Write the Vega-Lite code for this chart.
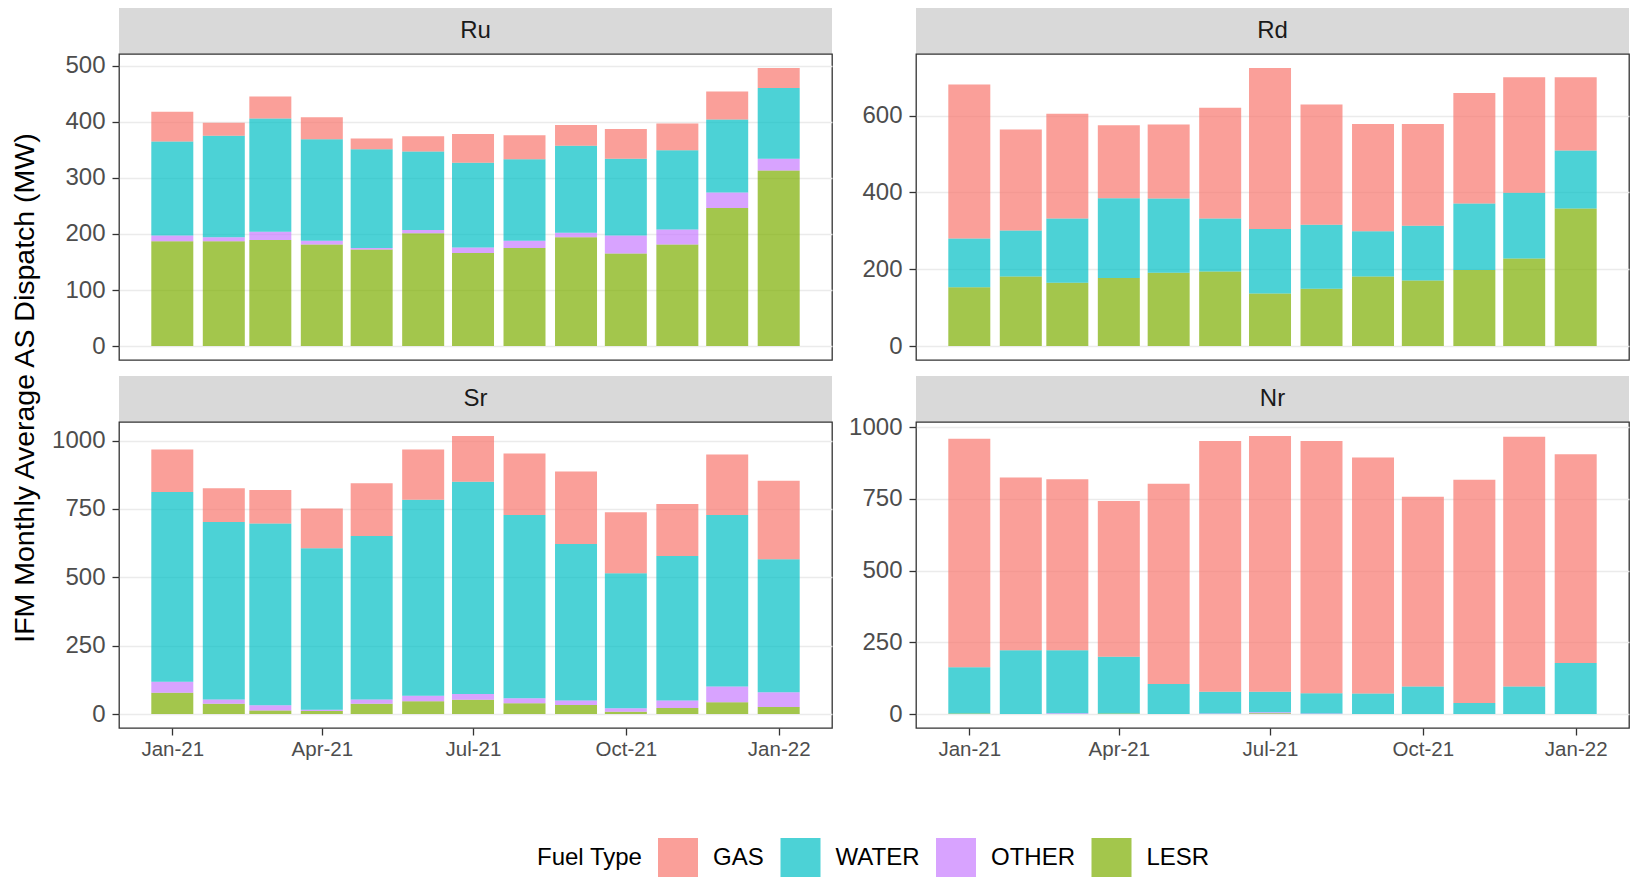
{
  "$schema": "https://vega.github.io/schema/vega-lite/v6.json",
  "padding": {"left": 0, "top": 8, "right": 2, "bottom": 0},
  "data": {"values": [
    {"panel":"Ru","month":"2021-01-01","fuel":"LESR","value":187},{"panel":"Ru","month":"2021-01-01","fuel":"OTHER","value":10},{"panel":"Ru","month":"2021-01-01","fuel":"WATER","value":168},{"panel":"Ru","month":"2021-01-01","fuel":"GAS","value":53},
    {"panel":"Ru","month":"2021-02-01","fuel":"LESR","value":187},{"panel":"Ru","month":"2021-02-01","fuel":"OTHER","value":7},{"panel":"Ru","month":"2021-02-01","fuel":"WATER","value":181},{"panel":"Ru","month":"2021-02-01","fuel":"GAS","value":23},
    {"panel":"Ru","month":"2021-03-01","fuel":"LESR","value":189},{"panel":"Ru","month":"2021-03-01","fuel":"OTHER","value":15},{"panel":"Ru","month":"2021-03-01","fuel":"WATER","value":202},{"panel":"Ru","month":"2021-03-01","fuel":"GAS","value":39},
    {"panel":"Ru","month":"2021-04-01","fuel":"LESR","value":181},{"panel":"Ru","month":"2021-04-01","fuel":"OTHER","value":7},{"panel":"Ru","month":"2021-04-01","fuel":"WATER","value":181},{"panel":"Ru","month":"2021-04-01","fuel":"GAS","value":39},
    {"panel":"Ru","month":"2021-05-01","fuel":"LESR","value":172},{"panel":"Ru","month":"2021-05-01","fuel":"OTHER","value":3},{"panel":"Ru","month":"2021-05-01","fuel":"WATER","value":176},{"panel":"Ru","month":"2021-05-01","fuel":"GAS","value":19},
    {"panel":"Ru","month":"2021-06-01","fuel":"LESR","value":201},{"panel":"Ru","month":"2021-06-01","fuel":"OTHER","value":6},{"panel":"Ru","month":"2021-06-01","fuel":"WATER","value":140},{"panel":"Ru","month":"2021-06-01","fuel":"GAS","value":27},
    {"panel":"Ru","month":"2021-07-01","fuel":"LESR","value":166},{"panel":"Ru","month":"2021-07-01","fuel":"OTHER","value":10},{"panel":"Ru","month":"2021-07-01","fuel":"WATER","value":151},{"panel":"Ru","month":"2021-07-01","fuel":"GAS","value":51},
    {"panel":"Ru","month":"2021-08-01","fuel":"LESR","value":175},{"panel":"Ru","month":"2021-08-01","fuel":"OTHER","value":13},{"panel":"Ru","month":"2021-08-01","fuel":"WATER","value":145},{"panel":"Ru","month":"2021-08-01","fuel":"GAS","value":43},
    {"panel":"Ru","month":"2021-09-01","fuel":"LESR","value":194},{"panel":"Ru","month":"2021-09-01","fuel":"OTHER","value":8},{"panel":"Ru","month":"2021-09-01","fuel":"WATER","value":155},{"panel":"Ru","month":"2021-09-01","fuel":"GAS","value":37},
    {"panel":"Ru","month":"2021-10-01","fuel":"LESR","value":165},{"panel":"Ru","month":"2021-10-01","fuel":"OTHER","value":32},{"panel":"Ru","month":"2021-10-01","fuel":"WATER","value":137},{"panel":"Ru","month":"2021-10-01","fuel":"GAS","value":53},
    {"panel":"Ru","month":"2021-11-01","fuel":"LESR","value":181},{"panel":"Ru","month":"2021-11-01","fuel":"OTHER","value":27},{"panel":"Ru","month":"2021-11-01","fuel":"WATER","value":141},{"panel":"Ru","month":"2021-11-01","fuel":"GAS","value":48},
    {"panel":"Ru","month":"2021-12-01","fuel":"LESR","value":246},{"panel":"Ru","month":"2021-12-01","fuel":"OTHER","value":28},{"panel":"Ru","month":"2021-12-01","fuel":"WATER","value":130},{"panel":"Ru","month":"2021-12-01","fuel":"GAS","value":50},
    {"panel":"Ru","month":"2022-01-01","fuel":"LESR","value":313},{"panel":"Ru","month":"2022-01-01","fuel":"OTHER","value":21},{"panel":"Ru","month":"2022-01-01","fuel":"WATER","value":126},{"panel":"Ru","month":"2022-01-01","fuel":"GAS","value":36},

    {"panel":"Rd","month":"2021-01-01","fuel":"LESR","value":153},{"panel":"Rd","month":"2021-01-01","fuel":"WATER","value":127},{"panel":"Rd","month":"2021-01-01","fuel":"GAS","value":401},
    {"panel":"Rd","month":"2021-02-01","fuel":"LESR","value":181},{"panel":"Rd","month":"2021-02-01","fuel":"WATER","value":120},{"panel":"Rd","month":"2021-02-01","fuel":"GAS","value":263},
    {"panel":"Rd","month":"2021-03-01","fuel":"LESR","value":165},{"panel":"Rd","month":"2021-03-01","fuel":"WATER","value":167},{"panel":"Rd","month":"2021-03-01","fuel":"GAS","value":273},
    {"panel":"Rd","month":"2021-04-01","fuel":"LESR","value":177},{"panel":"Rd","month":"2021-04-01","fuel":"WATER","value":208},{"panel":"Rd","month":"2021-04-01","fuel":"GAS","value":190},
    {"panel":"Rd","month":"2021-05-01","fuel":"LESR","value":191},{"panel":"Rd","month":"2021-05-01","fuel":"WATER","value":193},{"panel":"Rd","month":"2021-05-01","fuel":"GAS","value":193},
    {"panel":"Rd","month":"2021-06-01","fuel":"LESR","value":194},{"panel":"Rd","month":"2021-06-01","fuel":"WATER","value":138},{"panel":"Rd","month":"2021-06-01","fuel":"GAS","value":288},
    {"panel":"Rd","month":"2021-07-01","fuel":"LESR","value":137},{"panel":"Rd","month":"2021-07-01","fuel":"WATER","value":168},{"panel":"Rd","month":"2021-07-01","fuel":"GAS","value":419},
    {"panel":"Rd","month":"2021-08-01","fuel":"LESR","value":149},{"panel":"Rd","month":"2021-08-01","fuel":"WATER","value":167},{"panel":"Rd","month":"2021-08-01","fuel":"GAS","value":313},
    {"panel":"Rd","month":"2021-09-01","fuel":"LESR","value":181},{"panel":"Rd","month":"2021-09-01","fuel":"WATER","value":118},{"panel":"Rd","month":"2021-09-01","fuel":"GAS","value":279},
    {"panel":"Rd","month":"2021-10-01","fuel":"LESR","value":171},{"panel":"Rd","month":"2021-10-01","fuel":"WATER","value":142},{"panel":"Rd","month":"2021-10-01","fuel":"GAS","value":265},
    {"panel":"Rd","month":"2021-11-01","fuel":"LESR","value":198},{"panel":"Rd","month":"2021-11-01","fuel":"WATER","value":173},{"panel":"Rd","month":"2021-11-01","fuel":"GAS","value":288},
    {"panel":"Rd","month":"2021-12-01","fuel":"LESR","value":228},{"panel":"Rd","month":"2021-12-01","fuel":"WATER","value":171},{"panel":"Rd","month":"2021-12-01","fuel":"GAS","value":301},
    {"panel":"Rd","month":"2022-01-01","fuel":"LESR","value":358},{"panel":"Rd","month":"2022-01-01","fuel":"WATER","value":151},{"panel":"Rd","month":"2022-01-01","fuel":"GAS","value":191},

    {"panel":"Sr","month":"2021-01-01","fuel":"LESR","value":78},{"panel":"Sr","month":"2021-01-01","fuel":"OTHER","value":40},{"panel":"Sr","month":"2021-01-01","fuel":"WATER","value":694},{"panel":"Sr","month":"2021-01-01","fuel":"GAS","value":155},
    {"panel":"Sr","month":"2021-02-01","fuel":"LESR","value":38},{"panel":"Sr","month":"2021-02-01","fuel":"OTHER","value":15},{"panel":"Sr","month":"2021-02-01","fuel":"WATER","value":649},{"panel":"Sr","month":"2021-02-01","fuel":"GAS","value":124},
    {"panel":"Sr","month":"2021-03-01","fuel":"LESR","value":13},{"panel":"Sr","month":"2021-03-01","fuel":"OTHER","value":19},{"panel":"Sr","month":"2021-03-01","fuel":"WATER","value":665},{"panel":"Sr","month":"2021-03-01","fuel":"GAS","value":122},
    {"panel":"Sr","month":"2021-04-01","fuel":"LESR","value":11},{"panel":"Sr","month":"2021-04-01","fuel":"OTHER","value":5},{"panel":"Sr","month":"2021-04-01","fuel":"WATER","value":590},{"panel":"Sr","month":"2021-04-01","fuel":"GAS","value":146},
    {"panel":"Sr","month":"2021-05-01","fuel":"LESR","value":38},{"panel":"Sr","month":"2021-05-01","fuel":"OTHER","value":15},{"panel":"Sr","month":"2021-05-01","fuel":"WATER","value":598},{"panel":"Sr","month":"2021-05-01","fuel":"GAS","value":193},
    {"panel":"Sr","month":"2021-06-01","fuel":"LESR","value":47},{"panel":"Sr","month":"2021-06-01","fuel":"OTHER","value":20},{"panel":"Sr","month":"2021-06-01","fuel":"WATER","value":717},{"panel":"Sr","month":"2021-06-01","fuel":"GAS","value":183},
    {"panel":"Sr","month":"2021-07-01","fuel":"LESR","value":52},{"panel":"Sr","month":"2021-07-01","fuel":"OTHER","value":21},{"panel":"Sr","month":"2021-07-01","fuel":"WATER","value":776},{"panel":"Sr","month":"2021-07-01","fuel":"GAS","value":168},
    {"panel":"Sr","month":"2021-08-01","fuel":"LESR","value":40},{"panel":"Sr","month":"2021-08-01","fuel":"OTHER","value":18},{"panel":"Sr","month":"2021-08-01","fuel":"WATER","value":670},{"panel":"Sr","month":"2021-08-01","fuel":"GAS","value":225},
    {"panel":"Sr","month":"2021-09-01","fuel":"LESR","value":33},{"panel":"Sr","month":"2021-09-01","fuel":"OTHER","value":17},{"panel":"Sr","month":"2021-09-01","fuel":"WATER","value":572},{"panel":"Sr","month":"2021-09-01","fuel":"GAS","value":265},
    {"panel":"Sr","month":"2021-10-01","fuel":"LESR","value":9},{"panel":"Sr","month":"2021-10-01","fuel":"OTHER","value":12},{"panel":"Sr","month":"2021-10-01","fuel":"WATER","value":494},{"panel":"Sr","month":"2021-10-01","fuel":"GAS","value":223},
    {"panel":"Sr","month":"2021-11-01","fuel":"LESR","value":22},{"panel":"Sr","month":"2021-11-01","fuel":"OTHER","value":28},{"panel":"Sr","month":"2021-11-01","fuel":"WATER","value":528},{"panel":"Sr","month":"2021-11-01","fuel":"GAS","value":190},
    {"panel":"Sr","month":"2021-12-01","fuel":"LESR","value":43},{"panel":"Sr","month":"2021-12-01","fuel":"OTHER","value":58},{"panel":"Sr","month":"2021-12-01","fuel":"WATER","value":627},{"panel":"Sr","month":"2021-12-01","fuel":"GAS","value":221},
    {"panel":"Sr","month":"2022-01-01","fuel":"LESR","value":26},{"panel":"Sr","month":"2022-01-01","fuel":"OTHER","value":54},{"panel":"Sr","month":"2022-01-01","fuel":"WATER","value":486},{"panel":"Sr","month":"2022-01-01","fuel":"GAS","value":287},

    {"panel":"Nr","month":"2021-01-01","fuel":"LESR","value":2},{"panel":"Nr","month":"2021-01-01","fuel":"WATER","value":161},{"panel":"Nr","month":"2021-01-01","fuel":"GAS","value":796},
    {"panel":"Nr","month":"2021-02-01","fuel":"WATER","value":222},{"panel":"Nr","month":"2021-02-01","fuel":"GAS","value":602},
    {"panel":"Nr","month":"2021-03-01","fuel":"OTHER","value":3},{"panel":"Nr","month":"2021-03-01","fuel":"WATER","value":219},{"panel":"Nr","month":"2021-03-01","fuel":"GAS","value":596},
    {"panel":"Nr","month":"2021-04-01","fuel":"LESR","value":2},{"panel":"Nr","month":"2021-04-01","fuel":"WATER","value":198},{"panel":"Nr","month":"2021-04-01","fuel":"GAS","value":542},
    {"panel":"Nr","month":"2021-05-01","fuel":"WATER","value":105},{"panel":"Nr","month":"2021-05-01","fuel":"GAS","value":697},
    {"panel":"Nr","month":"2021-06-01","fuel":"OTHER","value":2},{"panel":"Nr","month":"2021-06-01","fuel":"WATER","value":76},{"panel":"Nr","month":"2021-06-01","fuel":"GAS","value":873},
    {"panel":"Nr","month":"2021-07-01","fuel":"LESR","value":3},{"panel":"Nr","month":"2021-07-01","fuel":"OTHER","value":3},{"panel":"Nr","month":"2021-07-01","fuel":"WATER","value":72},{"panel":"Nr","month":"2021-07-01","fuel":"GAS","value":891},
    {"panel":"Nr","month":"2021-08-01","fuel":"OTHER","value":2},{"panel":"Nr","month":"2021-08-01","fuel":"WATER","value":71},{"panel":"Nr","month":"2021-08-01","fuel":"GAS","value":878},
    {"panel":"Nr","month":"2021-09-01","fuel":"WATER","value":72},{"panel":"Nr","month":"2021-09-01","fuel":"GAS","value":822},
    {"panel":"Nr","month":"2021-10-01","fuel":"WATER","value":96},{"panel":"Nr","month":"2021-10-01","fuel":"GAS","value":661},
    {"panel":"Nr","month":"2021-11-01","fuel":"WATER","value":39},{"panel":"Nr","month":"2021-11-01","fuel":"GAS","value":777},
    {"panel":"Nr","month":"2021-12-01","fuel":"WATER","value":96},{"panel":"Nr","month":"2021-12-01","fuel":"GAS","value":870},
    {"panel":"Nr","month":"2022-01-01","fuel":"WATER","value":178},{"panel":"Nr","month":"2022-01-01","fuel":"GAS","value":727}
  ]},
  "spacing": 0,
  "hconcat": [
    {
      "data": {"values": [{"label": "IFM Monthly Average AS Dispatch (MW)"}]},
      "width": 50, "height": 760,
      "view": {"stroke": null},
      "mark": {"type": "text", "angle": 270, "fontSize": 28.5, "font": "Liberation Sans", "color": "#000000"},
      "encoding": {"text": {"field": "label"}}
    },
    {
      "columns": 2,
      "bounds": "flush",
      "spacing": {"row": 0, "column": 84},
      "concat": [
        {"data": {"values": [{"name": "Ru"}]}, "width": 713, "height": 46, "view": {"fill": "#D9D9D9"},
         "mark": {"type": "text", "fontSize": 24, "font": "Liberation Sans", "color": "#1A1A1A"}, "encoding": {"text": {"field": "name"}}},
        {"data": {"values": [{"name": "Rd"}]}, "width": 713, "height": 46, "view": {"fill": "#D9D9D9"},
         "mark": {"type": "text", "fontSize": 24, "font": "Liberation Sans", "color": "#1A1A1A"}, "encoding": {"text": {"field": "name"}}},
        {
          "width": 713, "height": 306,
          "transform": [{"filter": "datum.panel === 'Ru'"}, {"calculate": "indexof(['LESR','OTHER','WATER','GAS'], datum.fuel)", "as": "stack_rank"}],
          "mark": {"type": "bar", "size": 42, "opacity": 0.7},
          "encoding": {
            "x": {"field": "month", "type": "temporal", "scale": {"type": "utc", "padding": 0, "domain": [{"year": 2020, "month": 11, "date": 29, "hours": 22, "utc": true}, {"year": 2022, "month": 2, "date": 2, "hours": 2, "utc": true}]}, "axis": null},
            "y": {"field": "value", "type": "quantitative", "stack": "zero", "scale": {"domain": [-24.8, 520.8], "nice": false, "zero": false}, "axis": {"values": [0, 100, 200, 300, 400, 500], "format": "d", "title": null}},
            "color": {"field": "fuel", "type": "nominal", "scale": {"domain": ["GAS", "WATER", "OTHER", "LESR"], "range": ["#F8766D", "#00BFC4", "#C77CFF", "#7CAE00"]}, "legend": {"title": "Fuel Type"}},
            "order": {"field": "stack_rank", "type": "quantitative"}
          }
        },
        {
          "width": 713, "height": 306,
          "transform": [{"filter": "datum.panel === 'Rd'"}, {"calculate": "indexof(['LESR','OTHER','WATER','GAS'], datum.fuel)", "as": "stack_rank"}],
          "mark": {"type": "bar", "size": 42, "opacity": 0.7},
          "encoding": {
            "x": {"field": "month", "type": "temporal", "scale": {"type": "utc", "padding": 0, "domain": [{"year": 2020, "month": 11, "date": 29, "hours": 22, "utc": true}, {"year": 2022, "month": 2, "date": 2, "hours": 2, "utc": true}]}, "axis": null},
            "y": {"field": "value", "type": "quantitative", "stack": "zero", "scale": {"domain": [-36.2, 760.2], "nice": false, "zero": false}, "axis": {"values": [0, 200, 400, 600], "format": "d", "title": null}},
            "color": {"field": "fuel", "type": "nominal", "scale": {"domain": ["GAS", "WATER", "OTHER", "LESR"], "range": ["#F8766D", "#00BFC4", "#C77CFF", "#7CAE00"]}, "legend": {"title": "Fuel Type"}},
            "order": {"field": "stack_rank", "type": "quantitative"}
          }
        },
        {"data": {"values": []}, "width": 713, "height": 16, "view": {"stroke": null}, "mark": "point", "encoding": {}},
        {"data": {"values": []}, "width": 713, "height": 16, "view": {"stroke": null}, "mark": "point", "encoding": {}},
        {"data": {"values": [{"name": "Sr"}]}, "width": 713, "height": 46, "view": {"fill": "#D9D9D9"},
         "mark": {"type": "text", "fontSize": 24, "font": "Liberation Sans", "color": "#1A1A1A"}, "encoding": {"text": {"field": "name"}}},
        {"data": {"values": [{"name": "Nr"}]}, "width": 713, "height": 46, "view": {"fill": "#D9D9D9"},
         "mark": {"type": "text", "fontSize": 24, "font": "Liberation Sans", "color": "#1A1A1A"}, "encoding": {"text": {"field": "name"}}},
        {
          "width": 713, "height": 306,
          "transform": [{"filter": "datum.panel === 'Sr'"}, {"calculate": "indexof(['LESR','OTHER','WATER','GAS'], datum.fuel)", "as": "stack_rank"}],
          "mark": {"type": "bar", "size": 42, "opacity": 0.7},
          "encoding": {
            "x": {"field": "month", "type": "temporal", "scale": {"type": "utc", "padding": 0, "domain": [{"year": 2020, "month": 11, "date": 29, "hours": 22, "utc": true}, {"year": 2022, "month": 2, "date": 2, "hours": 2, "utc": true}]},
                  "axis": {"values": [{"year": 2021, "month": 1, "date": 1, "utc": true}, {"year": 2021, "month": 4, "date": 1, "utc": true}, {"year": 2021, "month": 7, "date": 1, "utc": true}, {"year": 2021, "month": 10, "date": 1, "utc": true}, {"year": 2022, "month": 1, "date": 1, "utc": true}], "labelExpr": "utcFormat(datum.value, '%b-%y')", "title": null, "grid": false, "labelPadding": 4, "labelFontSize": 20.5}},
            "y": {"field": "value", "type": "quantitative", "stack": "zero", "scale": {"domain": [-50.85, 1067.85], "nice": false, "zero": false}, "axis": {"values": [0, 250, 500, 750, 1000], "format": "d", "title": null}},
            "color": {"field": "fuel", "type": "nominal", "scale": {"domain": ["GAS", "WATER", "OTHER", "LESR"], "range": ["#F8766D", "#00BFC4", "#C77CFF", "#7CAE00"]}, "legend": {"title": "Fuel Type"}},
            "order": {"field": "stack_rank", "type": "quantitative"}
          }
        },
        {
          "width": 713, "height": 306,
          "transform": [{"filter": "datum.panel === 'Nr'"}, {"calculate": "indexof(['LESR','OTHER','WATER','GAS'], datum.fuel)", "as": "stack_rank"}],
          "mark": {"type": "bar", "size": 42, "opacity": 0.7},
          "encoding": {
            "x": {"field": "month", "type": "temporal", "scale": {"type": "utc", "padding": 0, "domain": [{"year": 2020, "month": 11, "date": 29, "hours": 22, "utc": true}, {"year": 2022, "month": 2, "date": 2, "hours": 2, "utc": true}]},
                  "axis": {"values": [{"year": 2021, "month": 1, "date": 1, "utc": true}, {"year": 2021, "month": 4, "date": 1, "utc": true}, {"year": 2021, "month": 7, "date": 1, "utc": true}, {"year": 2021, "month": 10, "date": 1, "utc": true}, {"year": 2022, "month": 1, "date": 1, "utc": true}], "labelExpr": "utcFormat(datum.value, '%b-%y')", "title": null, "grid": false, "labelPadding": 4, "labelFontSize": 20.5}},
            "y": {"field": "value", "type": "quantitative", "stack": "zero", "scale": {"domain": [-48.45, 1017.45], "nice": false, "zero": false}, "axis": {"values": [0, 250, 500, 750, 1000], "format": "d", "title": null}},
            "color": {"field": "fuel", "type": "nominal", "scale": {"domain": ["GAS", "WATER", "OTHER", "LESR"], "range": ["#F8766D", "#00BFC4", "#C77CFF", "#7CAE00"]}, "legend": {"title": "Fuel Type"}},
            "order": {"field": "stack_rank", "type": "quantitative"}
          }
        }
      ]
    }
  ],
  "config": {
    "font": "Liberation Sans",
    "view": {"stroke": "#333333", "strokeWidth": 1.3},
    "axis": {"domain": false, "tickColor": "#333333", "tickSize": 7, "tickWidth": 1.3, "labelColor": "#4D4D4D", "labelFontSize": 24, "labelFont": "Liberation Sans", "labelPadding": 7, "gridColor": "#EBEBEB", "gridWidth": 1.4},
    "axisX": {"grid": false},
    "axisY": {"grid": true},
    "legend": {
      "orient": "none", "legendX": 537, "legendY": 830, "direction": "horizontal",
      "titleOrient": "left", "titleAnchor": "middle", "titleBaseline": "middle",
      "titleFontSize": 24, "titleFontWeight": "normal", "titleColor": "#000000", "titleFont": "Liberation Sans", "titlePadding": 15,
      "labelFontSize": 24, "labelFont": "Liberation Sans", "labelColor": "#000000", "labelOffset": 15,
      "symbolType": "square", "symbolSize": 1600, "symbolStrokeWidth": 0, "symbolOpacity": 0.7,
      "columnPadding": 16.5
    }
  }
}
